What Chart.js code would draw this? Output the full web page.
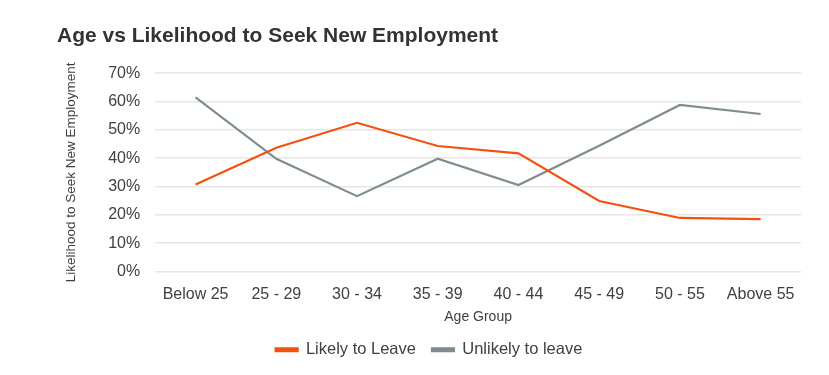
<!DOCTYPE html>
<html>
<head>
<meta charset="utf-8">
<script src="https://cdn.jsdelivr.net/npm/chart.js@4"></script>
<style>
  body { margin: 0; background: #fff; }
  #wrap { width: 829px; height: 375px; }
</style>
</head>
<body>
<div id="wrap"><canvas id="ageChart"></canvas></div>
<script>
var ageGroups = ['Below 25', '25 - 29', '30 - 34', '35 - 39', '40 - 44', '45 - 49', '50 - 55', 'Above 55'];
var likelyToLeave = [30.7, 43.7, 52.5, 44.3, 41.7, 24.9, 18.9, 18.5];
var unlikelyToLeave = [61.5, 39.8, 26.6, 39.8, 30.5, 44.4, 58.8, 55.6];

var orange = '#f5500f';
var grey = '#7f8c91';
var textColor = '#404040';

var ctx = document.getElementById('ageChart').getContext('2d');
var ageChart = new Chart(ctx, {
  type: 'line',
  data: {
    labels: ageGroups,
    datasets: [{
      label: 'Likely to Leave',
      data: likelyToLeave,
      borderColor: orange,
      backgroundColor: orange,
      borderWidth: 2.2,
      pointRadius: 0,
      tension: 0
    }, {
      label: 'Unlikely to leave',
      data: unlikelyToLeave,
      borderColor: grey,
      backgroundColor: grey,
      borderWidth: 2.2,
      pointRadius: 0,
      tension: 0
    }]
  },
  options: {
    responsive: true,
    maintainAspectRatio: false,
    animation: false,
    layout: { padding: { left: 57, right: 28, top: 0, bottom: 7 } },
    plugins: {
      title: {
        display: true,
        text: 'Age vs Likelihood to Seek New Employment',
        align: 'start',
        color: '#333333',
        font: { family: 'Liberation Sans', size: 21, weight: 'bold' },
        padding: { top: 24, bottom: 24 }
      },
      legend: {
        position: 'bottom',
        labels: {
          color: textColor,
          font: { family: 'Liberation Sans', size: 16.5 },
          boxWidth: 22,
          boxHeight: 3,
          padding: 16
        }
      },
      tooltip: { enabled: false }
    },
    scales: {
      x: {
        offset: true,
        grid: { display: false },
        border: { display: false },
        ticks: { color: textColor, font: { family: 'Liberation Sans', size: 16 }, padding: 5 },
        title: {
          display: true,
          text: 'Age Group',
          color: textColor,
          font: { family: 'Liberation Sans', size: 14 },
          padding: { top: 0, bottom: 0 }
        }
      },
      y: {
        min: 0,
        max: 70,
        ticks: {
          stepSize: 10,
          color: textColor,
          font: { family: 'Liberation Sans', size: 16 },
          padding: 15,
          callback: function (v) { return v + '%'; }
        },
        grid: { color: '#e6e6e6', lineWidth: 1.5, drawTicks: false },
        border: { display: false },
        title: {
          display: true,
          text: 'Likelihood to Seek New Employment',
          color: textColor,
          font: { family: 'Liberation Sans', size: 13.5 },
          padding: { top: 6, bottom: 14 }
        }
      }
    }
  }
});
</script>
</body>
</html>
